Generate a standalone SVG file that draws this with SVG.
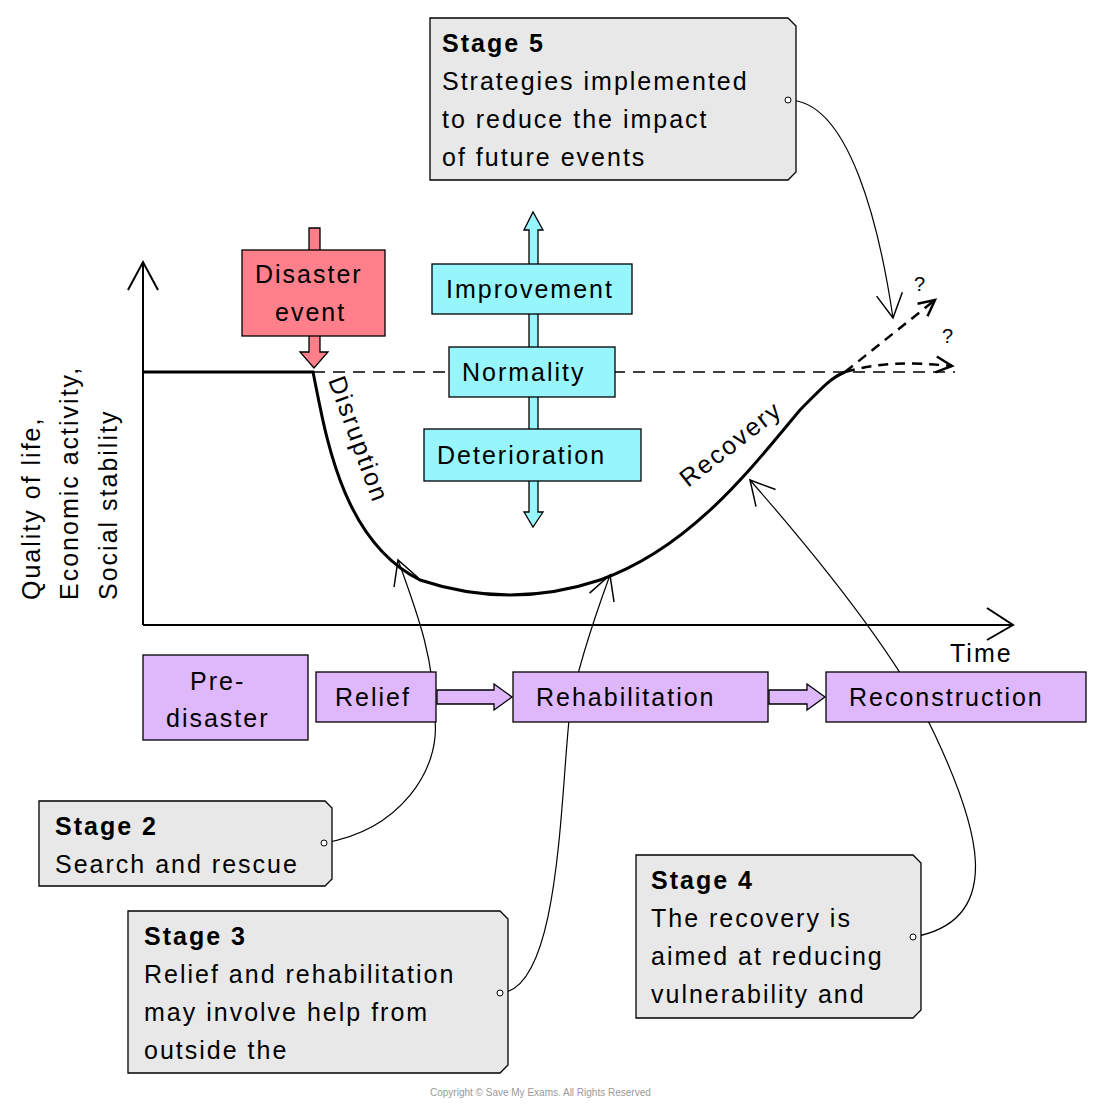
<svg xmlns="http://www.w3.org/2000/svg" width="1100" height="1111" viewBox="0 0 1100 1111">
<defs>
<marker id="big" markerWidth="30" markerHeight="30" refX="28" refY="15" orient="auto" markerUnits="userSpaceOnUse"><path d="M4,2 L28,15 L4,28" fill="none" stroke="#000" stroke-width="1.5"/></marker>
<marker id="thick" markerWidth="24" markerHeight="24" refX="20" refY="12" orient="auto" markerUnits="userSpaceOnUse"><path d="M4,4 L20,12 L4,20" fill="none" stroke="#000" stroke-width="2.5"/></marker>
</defs>
<style>
text{font-family:"Liberation Sans",Arial,sans-serif;font-size:25px;fill:#000;letter-spacing:2px}
.b{font-weight:bold}
.note{fill:#e8e8e8;stroke:#000;stroke-width:1.3}
.cy{fill:#97f6fc;stroke:#000;stroke-width:1.3}
.pu{fill:#dfb7fb;stroke:#000;stroke-width:1.3}
.c{fill:none;stroke:#000;stroke-width:1.2}
.dot{fill:#fff;stroke:#000;stroke-width:1}
</style>
<rect width="1100" height="1111" fill="#fff"/>
<g id="axes" fill="none" stroke="#000" stroke-width="2">
<path d="M143,625 V262 M128,290 L143,262 L158,290"/>
<path d="M143,625 H1013 M987,608 L1013,625 L987,640"/>
</g>
<text transform="translate(40,600) rotate(-90)">Quality of life,</text>
<text transform="translate(78,600) rotate(-90)">Economic activity,</text>
<text transform="translate(117,600) rotate(-90)">Social stability</text>
<text x="950" y="662">Time</text>
<g id="curve" fill="none" stroke="#000" stroke-width="3">
<path d="M143,372 H313 C325,430 340,540 420,580 C480,600 540,600 600,580 C690,548 750,470 800,410 C820,390 830,378 845,372"/>
<path d="M313,372 H955" stroke-width="1.5" stroke-dasharray="12,8"/>
<path d="M845,372 L935,300" stroke-width="2.5" stroke-dasharray="10,7" marker-end="url(#thick)"/>
<path d="M845,372 C880,362 910,362 952,366" stroke-width="2.5" stroke-dasharray="10,7" marker-end="url(#thick)"/>
</g>
<text x="914" y="291" style="font-size:20px">?</text>
<text x="942" y="343" style="font-size:20px">?</text>
<text transform="translate(328,380) rotate(70)">Disruption</text>
<text transform="translate(688,488) rotate(-38)">Recovery</text>
<g id="stem">
<path d="M524,230 L533,212 L543,230 H538 V512 H543 L533,527 L524,512 H529 V230 Z" fill="#97f6fc" stroke="#000" stroke-width="1.3"/>
</g>
<g id="disaster">
<path d="M309,228 H320 V352 H328 L314,368 L300,352 H309 Z" fill="#ff7f8a" stroke="#000" stroke-width="1.3"/>
<rect x="242" y="250" width="143" height="86" fill="#ff7f8a" stroke="#000" stroke-width="1.3"/>
<text x="255" y="283">Disaster</text><text x="275" y="321">event</text>
</g>
<g id="improvement"><rect class="cy" x="432" y="264" width="200" height="50"/><text x="446" y="298">Improvement</text></g>
<g id="normality"><rect class="cy" x="449" y="347" width="166" height="50"/><text x="462" y="381">Normality</text></g>
<g id="deterioration"><rect class="cy" x="424" y="429" width="217" height="52"/><text x="437" y="464">Deterioration</text></g>
<g id="connectors">
<path class="c" d="M788,100 C850,100 880,230 893,318" marker-end="url(#big)"/>
<path class="c" d="M324,843 C400,830 440,770 435,720 C434,660 420,620 398,560" marker-end="url(#big)"/>
<path class="c" d="M500,993 C560,990 560,800 570,710 C575,680 590,630 610,575" marker-end="url(#big)"/>
<path class="c" d="M913,937 C1010,920 975,820 935,735 C900,660 820,560 750,480" marker-end="url(#big)"/>
</g>
<g id="pre"><rect class="pu" x="143" y="655" width="165" height="85"/><text x="190" y="690">Pre-</text><text x="166" y="727">disaster</text></g>
<g id="relief"><rect class="pu" x="316" y="672" width="120" height="50"/><text x="335" y="706">Relief</text></g>
<g id="rehab"><rect class="pu" x="513" y="672" width="255" height="50"/><text x="536" y="706">Rehabilitation</text></g>
<g id="recon"><rect class="pu" x="826" y="672" width="260" height="50"/><text x="849" y="706">Reconstruction</text></g>
<g id="phase-arrows">
<path d="M437,690 H494 V684 L512,697 L494,710 V704 H437 Z" class="pu"/>
<path d="M769,690 H807 V684 L825,697 L807,710 V704 H769 Z" class="pu"/>
</g>
<g id="stage5"><path class="note" d="M430,18 H788 L796,26 V172 L788,180 H430 Z"/>
<text x="442" y="52" class="b">Stage 5</text><text x="442" y="90">Strategies implemented</text><text x="442" y="128">to reduce the impact</text><text x="442" y="166">of future events</text></g>
<g id="stage2"><path class="note" d="M39,801 H325 L332,808 V879 L325,886 H39 Z"/>
<text x="55" y="835" class="b">Stage 2</text><text x="55" y="873">Search and rescue</text></g>
<g id="stage3"><path class="note" d="M128,911 H500 L508,919 V1065 L500,1073 H128 Z"/>
<text x="144" y="945" class="b">Stage 3</text><text x="144" y="983">Relief and rehabilitation</text><text x="144" y="1021">may involve help from</text><text x="144" y="1059">outside the</text></g>
<g id="stage4"><path class="note" d="M636,855 H913 L921,863 V1010 L913,1018 H636 Z"/>
<text x="651" y="889" class="b">Stage 4</text><text x="651" y="927">The recovery is</text><text x="651" y="965">aimed at reducing</text><text x="651" y="1003">vulnerability and</text></g>
<g id="dots">
<circle class="dot" cx="788" cy="100" r="3"/><circle class="dot" cx="324" cy="843" r="3"/><circle class="dot" cx="500" cy="993" r="3"/><circle class="dot" cx="913" cy="937" r="3"/>
</g>
<text x="430" y="1096" style="font-size:10px;fill:#999;letter-spacing:0">Copyright © Save My Exams. All Rights Reserved</text>
</svg>
